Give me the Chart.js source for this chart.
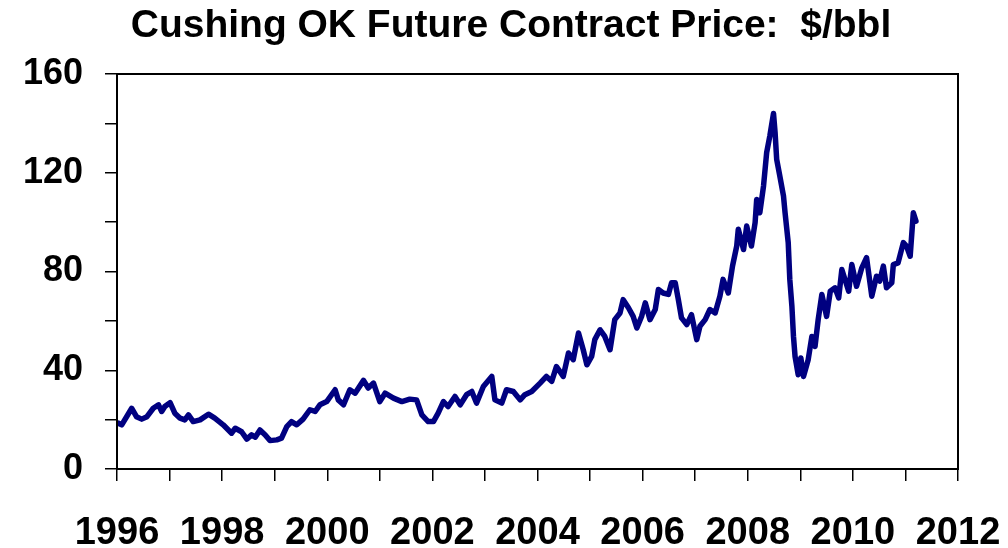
<!DOCTYPE html>
<html>
<head>
<meta charset="utf-8">
<script src="https://cdn.jsdelivr.net/npm/chart.js@4"></script>
<style>
  body { margin: 0; background: #fff; }
  #wrap { width: 1008px; height: 548px; position: relative; }
</style>
</head>
<body>
<div id="wrap"><canvas id="priceChart"></canvas></div>
<script>
// price readings (decimal year, $/bbl)
const years = [
    1996.02, 1996.09, 1996.28, 1996.37, 1996.47, 1996.57, 1996.69, 1996.79, 1996.85, 1996.91,
    1997.01, 1997.10, 1997.20, 1997.29, 1997.36, 1997.45, 1997.58, 1997.74, 1997.86,
    1998.02, 1998.18, 1998.25, 1998.37, 1998.47, 1998.56, 1998.63, 1998.72, 1998.82, 1998.91,
    1999.04, 1999.13, 1999.23, 1999.32, 1999.42, 1999.54, 1999.67, 1999.77, 1999.86, 1999.99,
    2000.15, 2000.21, 2000.31, 2000.43, 2000.53, 2000.69, 2000.78, 2000.88,
    2001.00, 2001.10, 2001.26, 2001.42, 2001.57, 2001.70, 2001.80, 2001.92,
    2002.02, 2002.11, 2002.21, 2002.30, 2002.43, 2002.53, 2002.65, 2002.75, 2002.84, 2002.97,
    2003.13, 2003.19, 2003.32, 2003.41, 2003.54, 2003.67, 2003.76, 2003.89,
    2004.05, 2004.17, 2004.27, 2004.36, 2004.49, 2004.59, 2004.68, 2004.78, 2004.87, 2004.94,
    2005.03, 2005.09, 2005.19, 2005.28, 2005.38, 2005.47, 2005.57, 2005.63, 2005.73, 2005.82, 2005.89, 2005.98,
    2006.05, 2006.14, 2006.24, 2006.30, 2006.39, 2006.49, 2006.55, 2006.62, 2006.68, 2006.74, 2006.84, 2006.93,
    2007.03, 2007.09, 2007.19, 2007.28, 2007.38, 2007.47, 2007.53, 2007.63, 2007.71, 2007.79, 2007.82, 2007.92, 2007.98,
    2008.07, 2008.14, 2008.17, 2008.23, 2008.30, 2008.36, 2008.42, 2008.49, 2008.52, 2008.55, 2008.61, 2008.68,
    2008.71, 2008.77, 2008.80, 2008.84, 2008.87, 2008.90, 2008.96,
    2009.01, 2009.06, 2009.15, 2009.22, 2009.28, 2009.34, 2009.41, 2009.50, 2009.57, 2009.66, 2009.73, 2009.79, 2009.92, 2009.98,
    2010.07, 2010.17, 2010.26, 2010.36, 2010.45, 2010.51, 2010.58, 2010.64, 2010.74, 2010.77, 2010.86, 2010.96,
    2011.02, 2011.09, 2011.15, 2011.20
];
const prices = [
    18.6, 17.9, 24.6, 21.2, 20.2, 21.2, 24.6, 26.0, 23.3, 25.3,
    26.9, 22.6, 20.6, 19.9, 21.9, 19.2, 19.9, 22.2, 20.6,
    17.9, 14.5, 16.5, 15.1, 12.1, 13.8, 12.9, 15.8, 13.8, 11.5,
    11.8, 12.5, 17.2, 19.2, 17.9, 20.2, 24.0, 23.3, 26.0, 27.3,
    32.1, 28.0, 26.0, 32.1, 30.7, 35.9, 32.8, 34.8,
    27.3, 30.7, 28.7, 27.3, 28.3, 28.0, 21.9, 19.2,
    19.2, 22.6, 27.3, 25.3, 29.4, 26.0, 30.1, 31.4, 26.7, 33.4,
    37.5, 28.0, 26.7, 32.1, 31.4, 28.0, 30.1, 31.4,
    34.8, 37.5, 35.5, 41.5, 37.5, 47.0, 44.3, 55.1, 48.3, 42.2,
    45.6, 52.4, 56.4, 53.7, 48.3, 60.5, 63.2, 68.6, 65.3, 61.8, 57.1, 61.8,
    67.3, 60.5, 64.6, 72.7, 71.3, 70.7, 75.4, 75.4, 68.6, 61.2, 58.5, 62.5,
    52.4, 57.8, 60.5, 64.6, 63.2, 70.0, 76.8, 71.3, 82.2, 90.3, 97.1, 88.9, 98.4,
    90.3, 99.8, 109.2, 103.8, 114.6, 128.2, 134.9, 144.0, 136.3, 125.5, 118.7, 110.6,
    103.8, 91.7, 76.8, 65.9, 53.7, 45.6, 38.2,
    45.0, 37.5, 44.3, 53.7, 49.7, 60.5, 70.7, 61.8, 72.0, 73.4, 69.3, 80.8, 72.0, 82.8,
    74.0, 81.5, 85.6, 70.0, 78.1, 76.1, 82.2, 73.4, 75.4, 82.8, 83.5, 91.7,
    90.3, 86.2, 103.8, 100.4
];
const yearTicks = [1996, 1998, 2000, 2002, 2004, 2006, 2008, 2010, 2012];
const priceTicks = [0, 40, 80, 120, 160];

const fontFamily = '"Liberation Sans", Arial, Helvetica, sans-serif';

// box around the plot area
const frame = {
    id: 'frame',
    afterDatasetsDraw(chart) {
        const a = chart.chartArea;
        const c = chart.ctx;
        c.save();
        c.strokeStyle = '#000';
        c.lineWidth = 2;
        c.strokeRect(a.left, a.top, a.right - a.left, a.bottom - a.top);
        c.restore();
    }
};

const ctx = document.getElementById('priceChart').getContext('2d');
const priceChart = new Chart(ctx, {
    type: 'line',
    data: {
        datasets: [{
            label: 'Cushing OK',
            data: years.map((x, i) => ({ x: x, y: prices[i] })),
            borderColor: '#000080',
            borderWidth: 5.5,
            pointRadius: 0,
            tension: 0,
            borderJoinStyle: 'round',
            borderCapStyle: 'round'
        }]
    },
    options: {
        responsive: true,
        maintainAspectRatio: false,
        animation: false,
        layout: { padding: { left: 14, right: 0, top: 0, bottom: 0 } },
        plugins: {
            legend: { display: false },
            tooltip: { enabled: false },
            title: {
                display: true,
                text: 'Cushing OK Future Contract Price:  $/bbl',
                color: '#000',
                font: { family: fontFamily, size: 39, weight: 'bold' },
                padding: { top: 3, bottom: 24.2 }
            }
        },
        scales: {
            x: {
                type: 'linear',
                min: 1996,
                max: 2012,
                afterFit: s => { s.height = 79; },
                ticks: {
                    stepSize: 1,
                    autoSkip: false,
                    maxRotation: 0,
                    padding: 3,
                    color: '#000',
                    // tall line box pushes the labels down without widening the right margin
                    font: { family: fontFamily, size: 38, weight: 'bold', lineHeight: 2.62 },
                    callback: v => yearTicks.includes(v) ? String(v) : ''
                },
                grid: { drawOnChartArea: false, drawTicks: true, tickLength: 12, color: '#000', lineWidth: 1.5 },
                border: { display: true, color: '#000', width: 2 }
            },
            y: {
                min: 0,
                max: 160,
                afterFit: s => { s.width = 103; },
                ticks: {
                    stepSize: 20,
                    padding: 22,
                    color: '#000',
                    font: { family: fontFamily, size: 36, weight: 'bold' },
                    callback: v => priceTicks.includes(v) ? String(v) : ''
                },
                grid: { drawOnChartArea: false, drawTicks: true, tickLength: 12, color: '#000', lineWidth: 1.5 },
                border: { display: true, color: '#000', width: 2 }
            },
            // empty right-hand box, only reserves the margin right of the plot
            yRight: {
                position: 'right',
                min: 0,
                max: 160,
                afterFit: s => { s.width = 50; },
                ticks: { display: false },
                grid: { display: false },
                border: { display: false }
            }
        }
    },
    plugins: [frame]
});
</script>
</body>
</html>
